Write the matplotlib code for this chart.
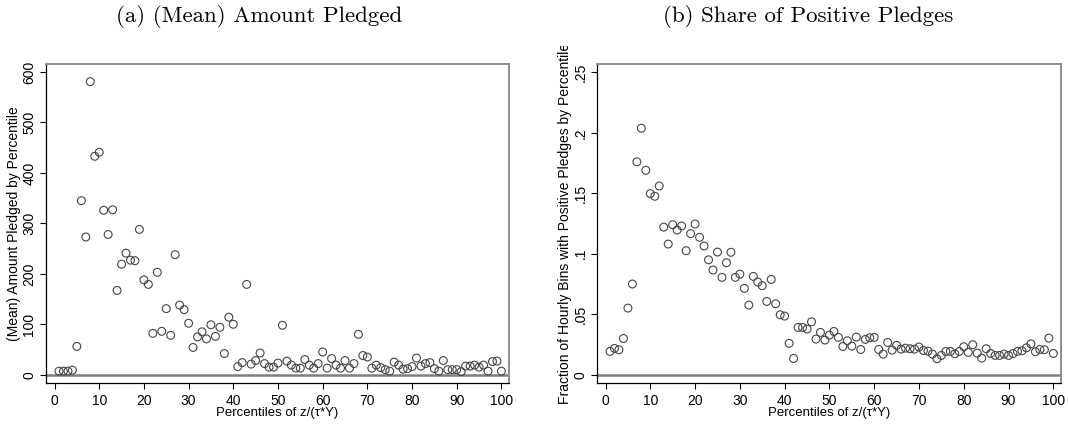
import numpy as np
import matplotlib
matplotlib.use("Agg")
import matplotlib.pyplot as plt
from matplotlib.transforms import Bbox

plt.rcParams["font.family"] = ["Liberation Sans", "DejaVu Sans"]

PCT = list(range(1, 101))

AMOUNT = [
    7, 7, 7, 9, 56, 345, 273, 581, 433, 441,
    326, 278, 327, 167, 219, 241, 227, 226, 288, 188,
    179, 82, 203, 86, 131, 78, 238, 138, 129, 102,
    54, 75, 85, 71, 99, 76, 94, 42, 114, 100,
    16, 24, 179, 21, 28, 43, 22, 15, 15, 23,
    98, 27, 19, 13, 13, 30, 19, 13, 22, 45,
    13, 32, 19, 13, 28, 13, 22, 80, 38, 35,
    13, 19, 14, 10, 7, 25, 19, 11, 12, 16,
    33, 17, 22, 24, 12, 7, 28, 10, 10, 10,
    6, 17, 17, 19, 15, 19, 7, 26, 27, 7,
]

SHARE = [
    0.0193, 0.0218, 0.0207, 0.0300, 0.0551, 0.0750, 0.1760, 0.2037, 0.1690, 0.1497,
    0.1475, 0.1560, 0.1220, 0.1080, 0.1240, 0.1196, 0.1230, 0.1025, 0.1166, 0.1246,
    0.1136, 0.1064, 0.0950, 0.0866, 0.1014, 0.0805, 0.0926, 0.1012, 0.0805, 0.0832,
    0.0714, 0.0576, 0.0813, 0.0766, 0.0736, 0.0606, 0.0788, 0.0587, 0.0496, 0.0485,
    0.0260, 0.0135, 0.0391, 0.0391, 0.0378, 0.0438, 0.0295, 0.0350, 0.0287, 0.0328,
    0.0358, 0.0309, 0.0234, 0.0281, 0.0237, 0.0311, 0.0209, 0.0292, 0.0306, 0.0309,
    0.0209, 0.0171, 0.0267, 0.0204, 0.0243, 0.0212, 0.0220, 0.0215, 0.0212, 0.0229,
    0.0201, 0.0196, 0.0171, 0.0132, 0.0160, 0.0193, 0.0193, 0.0174, 0.0193, 0.0232,
    0.0185, 0.0248, 0.0179, 0.0138, 0.0215, 0.0176, 0.0160, 0.0160, 0.0171, 0.0160,
    0.0176, 0.0193, 0.0198, 0.0223, 0.0256, 0.0190, 0.0209, 0.0207, 0.0303, 0.0176,
]

X_TICKS = [0, 10, 20, 30, 40, 50, 60, 70, 80, 90, 100]
AMOUNT_TICKS = [0, 100, 200, 300, 400, 500, 600]
SHARE_TICKS = [0, 0.05, 0.1, 0.15, 0.2, 0.25]
SHARE_TICK_LABELS = ["0", ".05", ".1", ".15", ".2", ".25"]

XLABEL = "Percentiles of z/(\u03c4*Y)"

fig = plt.figure(figsize=(10.68, 4.26), dpi=100)
ax_a = fig.add_axes([0.0431, 0.1009, 0.4335, 0.7489])
ax_b = fig.add_axes([0.5590, 0.1009, 0.4344, 0.7489])


def style_axes(ax, y, yticks, yticklabels, ylim, ylabel):
    ax.axhline(0, color="#7f7f7f", linewidth=1.8, zorder=1)
    ax.scatter(PCT, y, s=32, facecolors="none", edgecolors="#454545",
               linewidths=0.8, zorder=3)
    ax.set_xlim(-1.9, 101.7)
    ax.set_ylim(*ylim)
    ax.set_xticks(X_TICKS)
    ax.set_yticks(yticks)
    ax.set_yticklabels(yticklabels, rotation=90, va="center")
    ax.tick_params(axis="both", direction="out", length=4, width=0.8,
                   labelsize=10, color="black")
    ax.tick_params(axis="x", pad=4)
    ax.tick_params(axis="y", pad=3)
    for side in ("left", "bottom"):
        ax.spines[side].set_color("black")
        ax.spines[side].set_linewidth(0.9)
    for side in ("top", "right"):
        ax.spines[side].set_color("#8c8c8c")
        ax.spines[side].set_linewidth(1.4)
    ax.set_xlabel(XLABEL, fontsize=9.5, labelpad=-1)
    lab = ax.set_ylabel(ylabel, fontsize=10, labelpad=1)
    return lab


style_axes(ax_a, AMOUNT, AMOUNT_TICKS, [str(t) for t in AMOUNT_TICKS],
           (-16.5, 616), "(Mean) Amount Pledged by Percentile")
lab_b = style_axes(ax_b, SHARE, SHARE_TICKS, SHARE_TICK_LABELS,
                   (-0.0068, 0.2568),
                   "Fraction of Hourly Bins with Positive Pledges by Percentile")
# the long label is cut off just under the panel title
lab_b.set_clip_box(Bbox([[540, 0], [600, 426 - 46]]))
lab_b.set_clip_on(True)

fig.text(0.243, 0.962, "(a) (Mean) Amount Pledged", ha="center", va="center",
         fontsize=16.5, family="cmr10")
fig.text(0.757, 0.962, "(b) Share of Positive Pledges", ha="center", va="center",
         fontsize=16.5, family="cmr10")

fig.savefig("out.png", dpi=100)
